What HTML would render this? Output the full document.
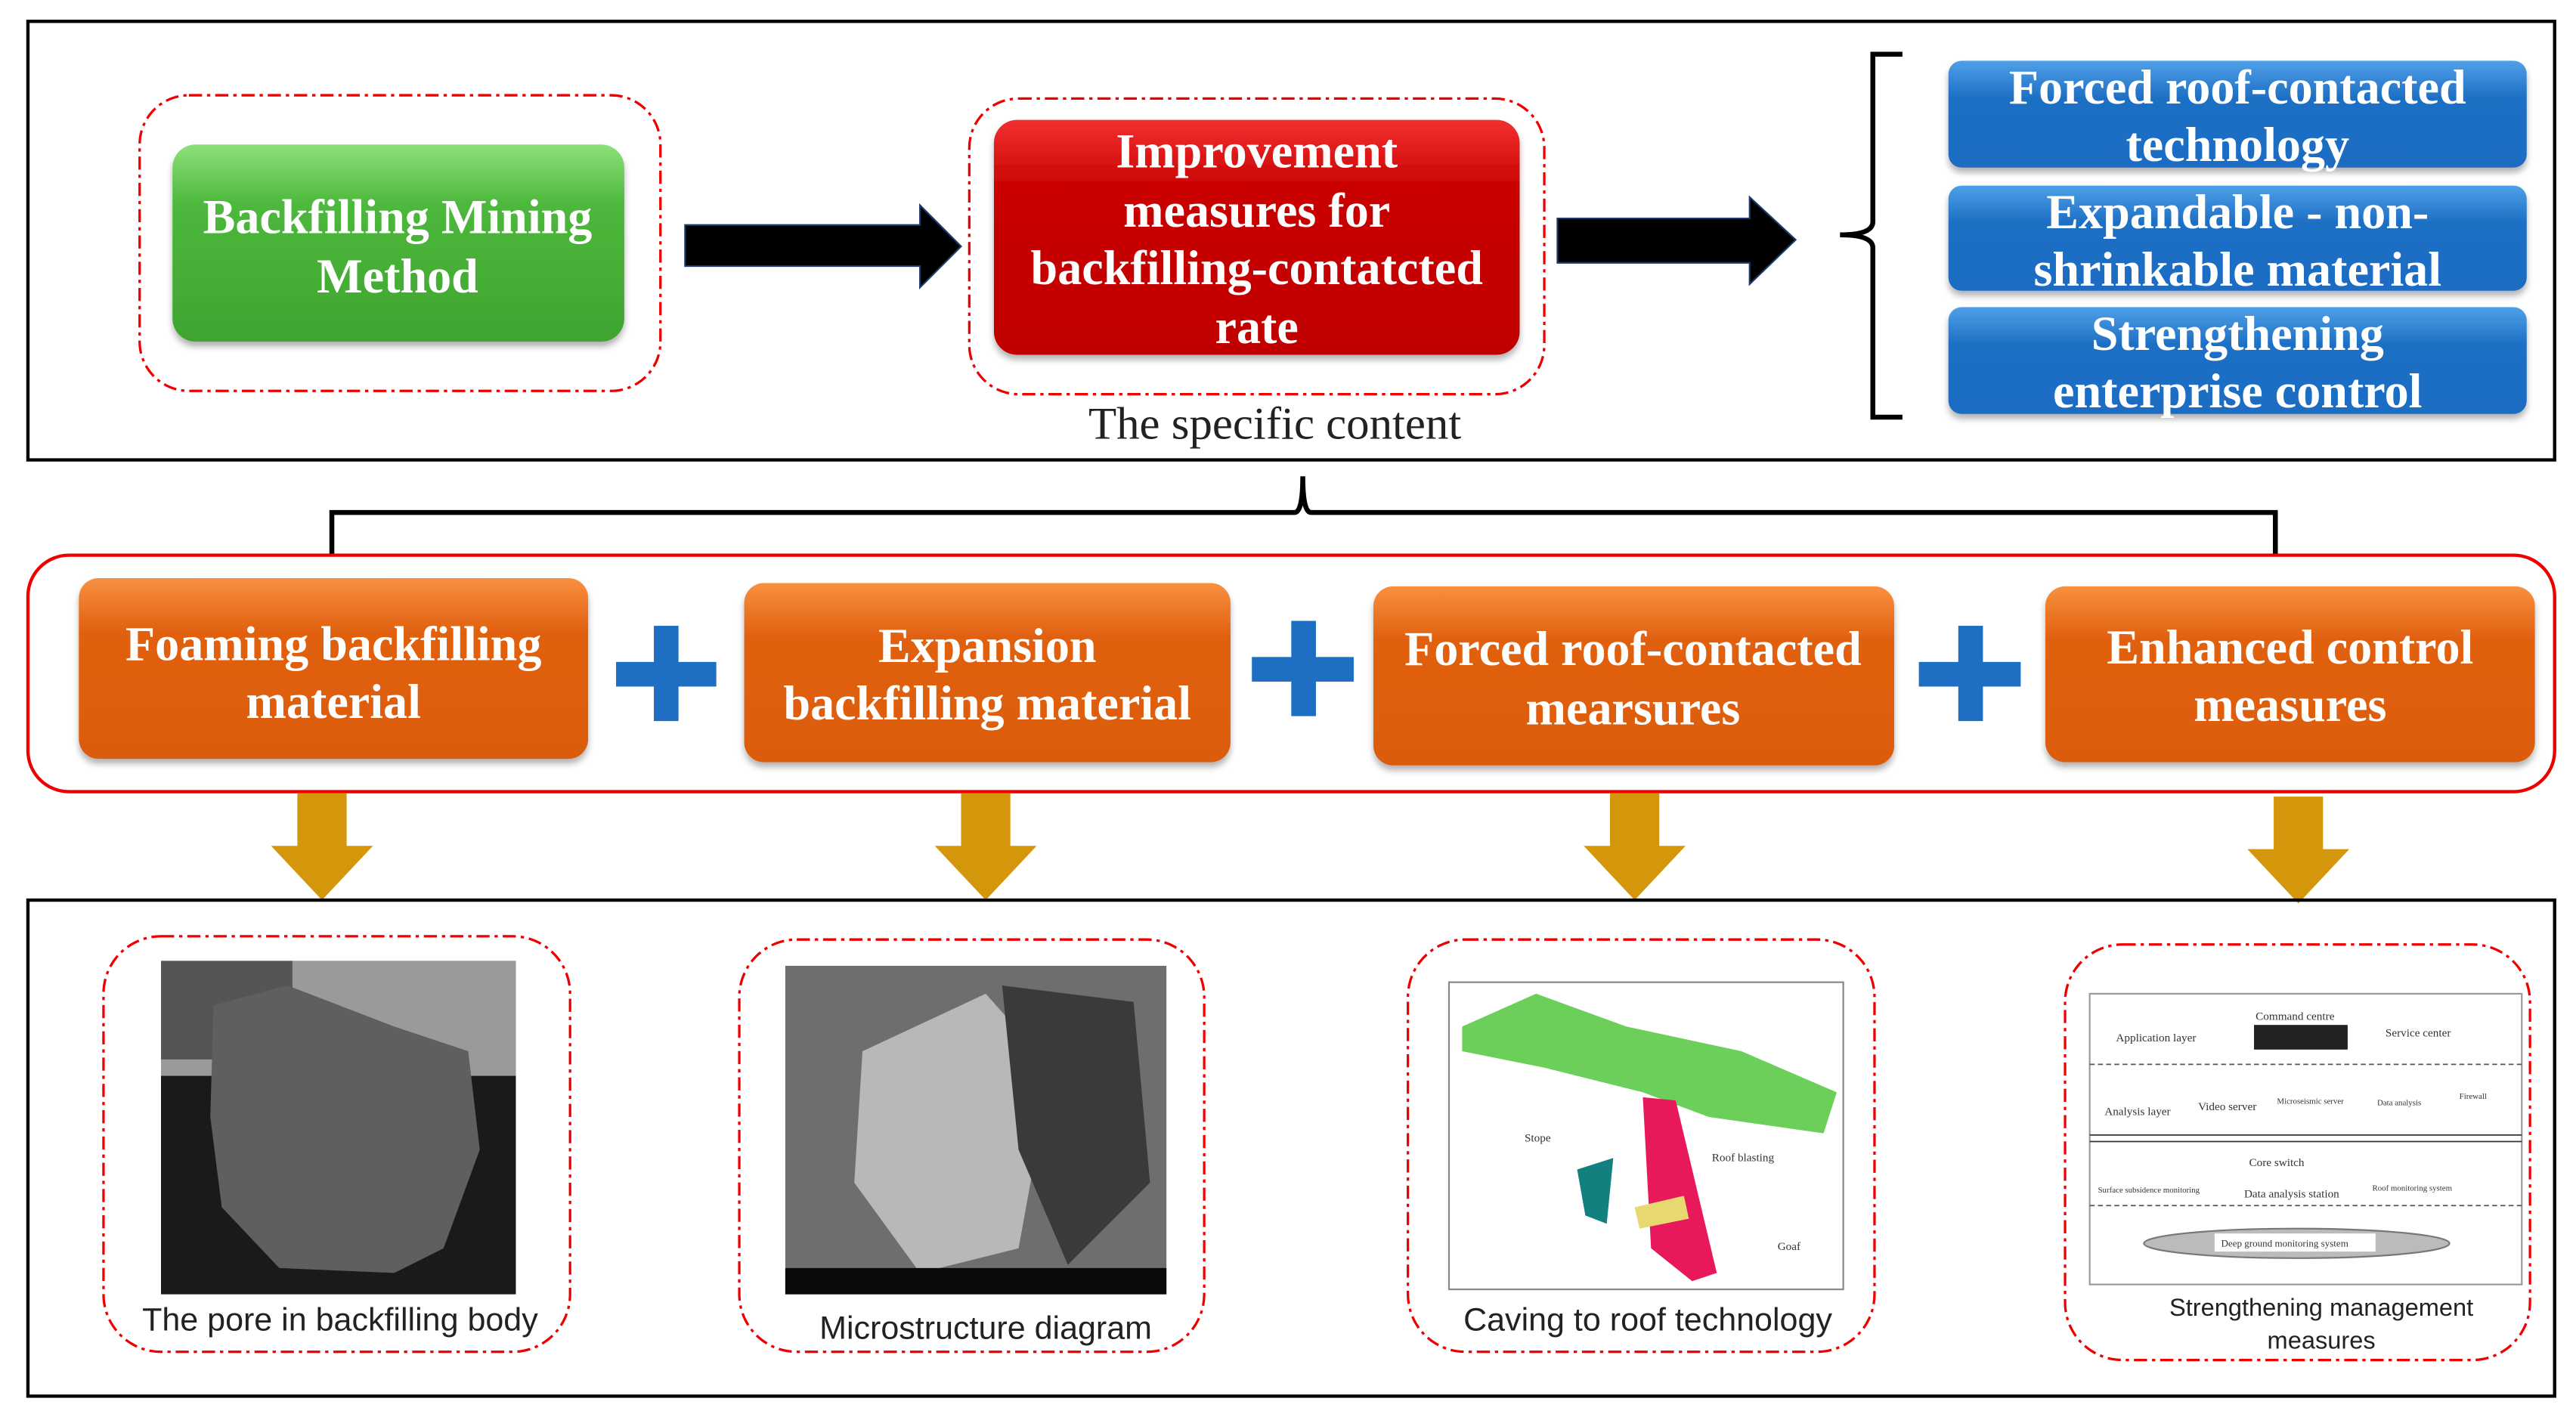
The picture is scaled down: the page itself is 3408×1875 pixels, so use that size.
<!DOCTYPE html>
<html><head><meta charset="utf-8"><style>
html,body{margin:0;padding:0;background:#fff;}
svg{display:block;}
.bt{font-family:"Liberation Serif",serif;font-weight:bold;fill:#fff;text-anchor:middle;}
.cap{font-family:"Liberation Sans",sans-serif;fill:#222;text-anchor:middle;font-size:19.8px;}
.sm{font-family:"Liberation Serif",serif;fill:#333;font-size:7px;}
</style></head><body>
<svg width="3408" height="1875" viewBox="0 0 1568 862.7" preserveAspectRatio="none" xmlns="http://www.w3.org/2000/svg">
<defs>
<linearGradient id="g" x1="0" y1="0" x2="0" y2="1"><stop offset="0" stop-color="#8de07a"/><stop offset="0.3" stop-color="#4db83c"/><stop offset="1" stop-color="#3fa42f"/></linearGradient>
<linearGradient id="r" x1="0" y1="0" x2="0" y2="1"><stop offset="0" stop-color="#f23030"/><stop offset="0.3" stop-color="#c80000"/><stop offset="1" stop-color="#c00000"/></linearGradient>
<linearGradient id="b" x1="0" y1="0" x2="0" y2="1"><stop offset="0" stop-color="#4fa0e8"/><stop offset="0.35" stop-color="#1e6fc4"/><stop offset="1" stop-color="#1b6cc4"/></linearGradient>
<linearGradient id="o" x1="0" y1="0" x2="0" y2="1"><stop offset="0" stop-color="#f89040"/><stop offset="0.3" stop-color="#e06010"/><stop offset="1" stop-color="#dc5c08"/></linearGradient>
<filter id="sh" x="-10%" y="-10%" width="120%" height="130%"><feDropShadow dx="0" dy="3" stdDeviation="2" flood-color="#000" flood-opacity="0.3"/></filter>
</defs>
<rect x="17" y="13" width="1538" height="267" fill="none" stroke="#000" stroke-width="2"/>
<rect x="85" y="58" width="317" height="180" rx="30" fill="none" stroke="#e00" stroke-width="1.5" stroke-dasharray="8,3,2,3"/>
<rect x="105" y="88" width="275" height="120" rx="14" fill="url(#g)" filter="url(#sh)"/>
<text class="bt" font-size="29.5" x="242" y="142">Backfilling Mining</text>
<text class="bt" font-size="29.5" x="242" y="178">Method</text>
<polygon points="417,137 560,137 560,125 585,150 560,175 560,162 417,162" fill="#000" stroke="#1b3a6b" stroke-width="1"/>
<rect x="590" y="60" width="350" height="180" rx="30" fill="none" stroke="#e00" stroke-width="1.5" stroke-dasharray="8,3,2,3"/>
<rect x="605" y="73" width="320" height="143" rx="14" fill="url(#r)" filter="url(#sh)"/>
<text class="bt" font-size="29.5" x="765" y="102">Improvement</text>
<text class="bt" font-size="29.5" x="765" y="138">measures for</text>
<text class="bt" font-size="29.5" x="765" y="173">backfilling-contatcted</text>
<text class="bt" font-size="29.5" x="765" y="209">rate</text>
<polygon points="948,133 1065,133 1065,120 1093,146 1065,173 1065,160 948,160" fill="#000" stroke="#1b3a6b" stroke-width="1"/>
<text x="776" y="267" font-family="Liberation Serif,serif" font-size="28" fill="#222" text-anchor="middle">The specific content</text>
<path d="M1158,33 L1140,33 L1140,135 Q1140,143 1120,143 Q1140,143 1140,151 L1140,254 L1158,254" fill="none" stroke="#000" stroke-width="3"/>
<rect x="1186" y="37" width="352" height="65" rx="8" fill="url(#b)" filter="url(#sh)"/>
<rect x="1186" y="113" width="352" height="64" rx="8" fill="url(#b)" filter="url(#sh)"/>
<rect x="1186" y="187" width="352" height="65" rx="8" fill="url(#b)" filter="url(#sh)"/>
<text class="bt" font-size="29.5" x="1362" y="63">Forced roof-contacted</text>
<text class="bt" font-size="29.5" x="1362" y="98">technology</text>
<text class="bt" font-size="29.5" x="1362" y="139">Expandable - non-</text>
<text class="bt" font-size="29.5" x="1362" y="174">shrinkable material</text>
<text class="bt" font-size="29.5" x="1362" y="213">Strengthening</text>
<text class="bt" font-size="29.5" x="1362" y="248">enterprise control</text>
<path d="M202,338 L202,312 L788,312 Q793,312 793,290 Q793,312 798,312 L1385,312 L1385,338" fill="none" stroke="#000" stroke-width="3"/>
<rect x="17" y="338" width="1538" height="144" rx="25" fill="none" stroke="#e00" stroke-width="2"/>
<rect x="48" y="352" width="310" height="110" rx="12" fill="url(#o)" filter="url(#sh)"/>
<rect x="453" y="355" width="296" height="109" rx="12" fill="url(#o)" filter="url(#sh)"/>
<rect x="836" y="357" width="317" height="109" rx="12" fill="url(#o)" filter="url(#sh)"/>
<rect x="1245" y="357" width="298" height="107" rx="12" fill="url(#o)" filter="url(#sh)"/>
<text class="bt" font-size="29.5" x="203" y="402">Foaming backfilling</text>
<text class="bt" font-size="29.5" x="203" y="437">material</text>
<text class="bt" font-size="29.5" x="601" y="403">Expansion</text>
<text class="bt" font-size="29.5" x="601" y="438">backfilling material</text>
<text class="bt" font-size="29.5" x="994" y="405">Forced roof-contacted</text>
<text class="bt" font-size="29.5" x="994" y="441">mearsures</text>
<text class="bt" font-size="29.5" x="1394" y="404">Enhanced control</text>
<text class="bt" font-size="29.5" x="1394" y="439">measures</text>
<g fill="#1e6fc4">
<rect x="398" y="381" width="15" height="58"/><rect x="375" y="403" width="61" height="15"/>
<rect x="786" y="378" width="15" height="58"/><rect x="762" y="400" width="62" height="15"/>
<rect x="1192" y="381" width="15" height="58"/><rect x="1168" y="403" width="62" height="15"/>
</g>
<g fill="#d4960a">
<polygon points="181,483 211,483 211,515 227,515 196,548 165,515 181,515"/>
<polygon points="585,483 615,483 615,515 631,515 600,548 569,515 585,515"/>
<polygon points="980,483 1010,483 1010,515 1026,515 995,548 964,515 980,515"/>
<polygon points="1384,485 1414,485 1414,517 1430,517 1399,550 1368,517 1384,517"/>
</g>
<rect x="17" y="548" width="1538" height="302" fill="none" stroke="#000" stroke-width="2"/>
<g fill="none" stroke="#e00" stroke-width="1.5" stroke-dasharray="8,3,2,3">
<rect x="63" y="570" width="284" height="253" rx="35"/>
<rect x="450" y="572" width="283" height="251" rx="35"/>
<rect x="857" y="572" width="284" height="251" rx="35"/>
<rect x="1257" y="575" width="283" height="253" rx="35"/>
</g>
<rect x="98" y="585" width="216" height="203" fill="#1a1a1a"/>
<rect x="98" y="585" width="216" height="70" fill="#9a9a9a"/>
<rect x="98" y="585" width="80" height="60" fill="#555"/>
<path d="M130,612 L175,600 L240,625 L285,640 L292,700 L270,760 L240,775 L170,772 L135,735 L128,680 Z" fill="#5f5f5f"/>
<rect x="478" y="588" width="232" height="200" fill="#6e6e6e"/>
<path d="M525,640 L600,605 L640,650 L620,760 L560,775 L520,720 Z" fill="#b8b8b8"/>
<path d="M610,600 L690,610 L700,720 L650,770 L620,700 Z" fill="#3a3a3a"/>
<rect x="478" y="772" width="232" height="16" fill="#0a0a0a"/>
<rect x="882" y="598" width="240" height="187" fill="#fff" stroke="#888"/>
<polygon points="890,625 935,605 990,625 1060,640 1118,665 1110,690 1040,680 1000,665 940,650 890,640" fill="#6ccf5a"/>
<polygon points="1000,668 1020,670 1045,775 1030,780 1005,760" fill="#e8195a"/>
<polygon points="960,712 982,705 978,745 965,740" fill="#138080"/>
<polygon points="995,735 1025,728 1028,742 998,748" fill="#e8d870"/>
<text class="sm" x="928" y="695" font-size="9">Stope</text>
<text class="sm" x="1042" y="707">Roof blasting</text>
<text class="sm" x="1082" y="761" font-size="9">Goaf</text>
<rect x="1272" y="605" width="263" height="177" fill="#fff" stroke="#999"/>
<line x1="1272" y1="648" x2="1535" y2="648" stroke="#555" stroke-dasharray="3,2" stroke-width="0.8"/>
<line x1="1272" y1="691" x2="1535" y2="691" stroke="#333" stroke-width="0.8"/>
<line x1="1272" y1="695" x2="1535" y2="695" stroke="#333" stroke-width="0.8"/>
<line x1="1272" y1="734" x2="1535" y2="734" stroke="#555" stroke-dasharray="3,2" stroke-width="0.8"/>
<rect x="1372" y="624" width="57" height="15" fill="#222"/>
<ellipse cx="1398" cy="757" rx="93" ry="9" fill="#bbb" stroke="#777"/>
<rect x="1348" y="751" width="98" height="11" fill="#fff"/>
<text class="sm" x="1373" y="621">Command centre</text>
<text class="sm" x="1288" y="634">Application layer</text>
<text class="sm" x="1452" y="631">Service center</text>
<text class="sm" x="1281" y="679">Analysis layer</text>
<text class="sm" x="1338" y="676">Video server</text>
<text class="sm" x="1386" y="672" style="font-size:5px">Microseismic server</text>
<text class="sm" x="1447" y="673" style="font-size:5px">Data analysis</text>
<text class="sm" x="1497" y="669" style="font-size:5px">Firewall</text>
<text class="sm" x="1369" y="710">Core switch</text>
<text class="sm" x="1277" y="726" style="font-size:5px">Surface subsidence monitoring</text>
<text class="sm" x="1366" y="729">Data analysis station</text>
<text class="sm" x="1444" y="725" style="font-size:5px">Roof monitoring system</text>
<text class="sm" x="1352" y="759" style="font-size:6px">Deep ground monitoring system</text>
<text class="cap" x="207" y="810">The pore in backfilling body</text>
<text class="cap" x="600" y="815">Microstructure diagram</text>
<text class="cap" x="1003" y="810">Caving to roof technology</text>
<text class="cap" x="1413" y="801" style="font-size:15px">Strengthening management</text>
<text class="cap" x="1413" y="821" style="font-size:15px">measures</text>
</svg>
</body></html>
